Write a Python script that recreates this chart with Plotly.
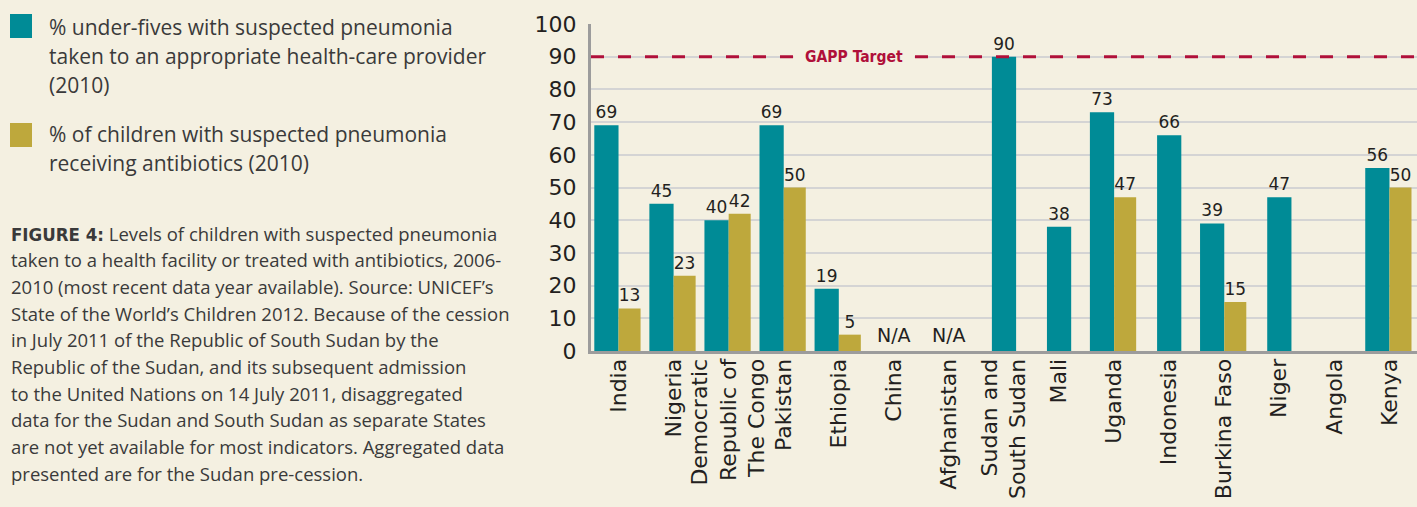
import plotly.graph_objects as go

# ---------------- data ----------------
countries = ["India", "Nigeria", "Democratic<br>Republic of<br>The Congo", "Pakistan",
             "Ethiopia", "China", "Afghanistan", "Sudan and<br>South Sudan", "Mali",
             "Uganda", "Indonesia", "Burkina Faso", "Niger", "Angola", "Kenya"]
care_provider = [69, 45, 40, 69, 19, None, None, 90, 38, 73, 66, 39, 47, None, 56]
antibiotics = [13, 23, 42, 50, 5, None, None, None, None, 47, None, 15, None, None, 50]
not_available = ["China", "Afghanistan"]
gapp_target = 90
gapp_label = "GAPP Target"
y_ticks = [0, 10, 20, 30, 40, 50, 60, 70, 80, 90, 100]

legend_1 = ["% under-fives with suspected pneumonia",
            "taken to an appropriate health-care provider",
            "(2010)"]
legend_2 = ["% of children with suspected pneumonia",
            "receiving antibiotics (2010)"]
caption_head = "FIGURE 4:"
caption = [
    " Levels of children with suspected pneumonia",
    "taken to a health facility or treated with antibiotics, 2006-",
    "2010 (most recent data year available). Source: UNICEF\u2019s",
    "State of the World\u2019s Children 2012. Because of the cession",
    "in July 2011 of the Republic of South Sudan by the",
    "Republic of the Sudan, and its subsequent admission",
    "to the United Nations on 14 July 2011, disaggregated",
    "data for the Sudan and South Sudan as separate States",
    "are not yet available for most indicators. Aggregated data",
    "presented are for the Sudan pre-cession.",
]

# ---------------- style ----------------
W, H = 1417, 507
L, R, T, B = 591, 0, 24, 156
BG = "#f4f0e1"
TEAL = "#008b96"
GOLD = "#bea83c"
RED = "#b0103a"
TXT = "#231f20"
BODY = "#3a3a3a"
FONT = "'DejaVu Sans', Verdana, sans-serif"
COND = "'DejaVu Sans Condensed', 'Liberation Sans Narrow', 'Liberation Sans', sans-serif"
BODY_FONT = "'Open Sans', 'Liberation Sans', Arial, sans-serif"
W_TEAL, W_GOLD = 0.44, 0.40
CHART_WEIGHT = 400


def px(x):
    return (x - L) / (W - L - R)


def py(y):
    return (H - B - y) / (H - T - B)


teal_offset = [(-W_TEAL if g is not None else -W_TEAL / 2) for g in antibiotics]

fig = go.Figure()
fig.add_trace(go.Bar(
    x=countries, y=care_provider, name=legend_1[0],
    marker=dict(color=TEAL, line=dict(width=0)),
    width=W_TEAL, offset=teal_offset,
    text=[("" if v is None else str(v)) for v in care_provider],
    textposition="outside", textangle=0, cliponaxis=False,
    textfont=dict(family=FONT, size=17, color=TXT, weight=CHART_WEIGHT),
    showlegend=False,
))
fig.add_trace(go.Bar(
    x=countries, y=antibiotics, name=legend_2[0],
    marker=dict(color=GOLD, line=dict(width=0)),
    width=W_GOLD, offset=0,
    text=[("" if v is None else str(v)) for v in antibiotics],
    textposition="outside", textangle=0, cliponaxis=False,
    textfont=dict(family=FONT, size=17, color=TXT, weight=CHART_WEIGHT),
    showlegend=False,
))

# GAPP target dashed line
fig.add_shape(type="line", xref="paper", yref="y", x0=0, x1=1, y0=gapp_target, y1=gapp_target,
              line=dict(color=RED, width=3, dash="13px,14px"), layer="above")

annotations = []
annotations.append(dict(xref="paper", yref="y", x=px(793), y=gapp_target, text="<b>" + gapp_label + "</b>",
                        showarrow=False, bgcolor=BG, width=118, align="center",
                        font=dict(family=COND, size=15.5, color=RED)))

for c in not_available:
    annotations.append(dict(x=c, y=0, xref="x", yref="y", text="N/A", showarrow=False,
                            yanchor="bottom", yshift=3,
                            font=dict(family=FONT, size=19, color=TXT, weight=CHART_WEIGHT)))

# legend blocks
shapes = []
for y0, col in [(14, TEAL), (123, GOLD)]:
    shapes.append(dict(type="rect", xref="paper", yref="paper", x0=px(10), x1=px(32),
                       y0=py(y0), y1=py(y0 + 24), fillcolor=col, line=dict(width=0)))
for i, line in enumerate(legend_1):
    annotations.append(dict(xref="paper", yref="paper", x=px(47), y=py(27 + 29 * i), text=line,
                            showarrow=False, xanchor="left", yanchor="middle",
                            font=dict(family=BODY_FONT, size=21, color=BODY)))
for i, line in enumerate(legend_2):
    annotations.append(dict(xref="paper", yref="paper", x=px(47), y=py(134 + 29 * i), text=line,
                            showarrow=False, xanchor="left", yanchor="middle",
                            font=dict(family=BODY_FONT, size=21, color=BODY)))
for i, line in enumerate(caption):
    if i == 0:
        line = ("<span style=\"font-family:" + COND.replace("'", "&#39;") + "\"><b>"
                + caption_head + "</b></span>" + line)
    annotations.append(dict(xref="paper", yref="paper", x=px(9), y=py(233 + 26.67 * i), text=line,
                            showarrow=False, xanchor="left", yanchor="middle",
                            font=dict(family=BODY_FONT, size=18.5, color=BODY)))

for s in shapes:
    fig.add_shape(**s)

fig.update_layout(
    width=W, height=H, margin=dict(l=L, r=R, t=T, b=B, pad=0),
    paper_bgcolor=BG, plot_bgcolor=BG,
    barmode="overlay", showlegend=False,
    annotations=annotations,
    font=dict(family=FONT, color=TXT),
)
fig.update_xaxes(
    type="category", tickangle=-90, showgrid=False, ticks="",
    tickfont=dict(family=FONT, size=22, color=TXT, weight=CHART_WEIGHT),
    ticklabelstandoff=-4,
    showline=True, linecolor="#9c9c9c", linewidth=3,
)
fig.update_yaxes(
    range=[0, 100], tickvals=y_ticks, showgrid=True, gridcolor="#d4d4d4", gridwidth=2,
    tickfont=dict(family=FONT, size=22, color=TXT, weight=CHART_WEIGHT), ticks="", ticklabelstandoff=7,
    showline=True, linecolor="#9c9c9c", linewidth=3, zeroline=False,
)

fig.write_html("out.html", config={"displayModeBar": False},
               post_script="document.body.style.margin='0';")
